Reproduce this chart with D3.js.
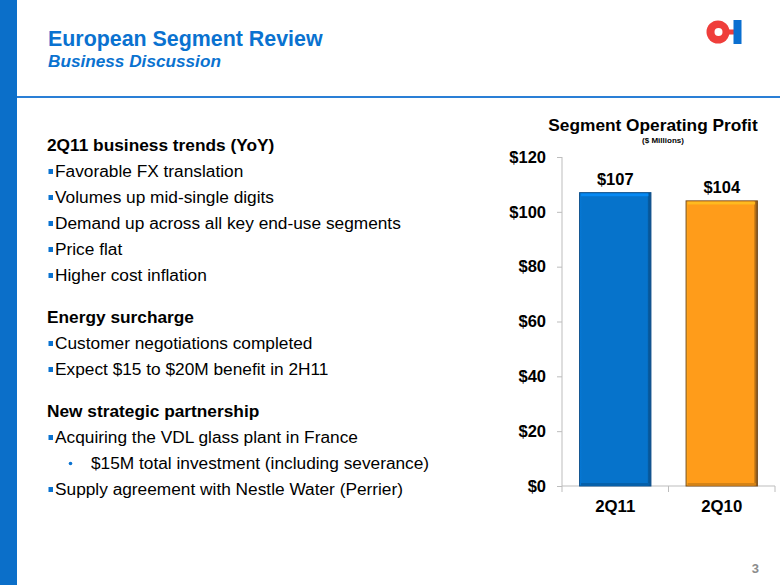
<!DOCTYPE html>
<html>
<head>
<meta charset="utf-8">
<script src="https://cdn.jsdelivr.net/npm/d3@7"></script>
<style>
html,body{margin:0;padding:0;background:#fff;}
svg{display:block;font-family:"Liberation Sans",Arial,sans-serif;}
</style>
</head>
<body>
<svg id="c" width="780" height="585"></svg>
<script>
const categories = ["2Q11", "2Q10"];
const values = [107, 104];
const valueLabels = ["$107", "$104"];
const yTicks = [0, 20, 40, 60, 80, 100, 120];
const yTickLabels = ["$0", "$20", "$40", "$60", "$80", "$100", "$120"];
const barColors = ["#0673CB", "#FF9C1A"];
const barEdges = ["#0D4F8A", "#7A4F1E"];

const title = "European Segment Review";
const subtitle = "Business Discussion";
const chartTitle = "Segment Operating Profit";
const chartSub = "($ Millions)";
const textBlocks = [
  {type:"h", text:"2Q11 business trends (YoY)"},
  {type:"b", text:"Favorable FX translation"},
  {type:"b", text:"Volumes up mid-single digits"},
  {type:"b", text:"Demand up across all key end-use segments"},
  {type:"b", text:"Price flat"},
  {type:"b", text:"Higher cost inflation"},
  {type:"gap"},
  {type:"h", text:"Energy surcharge"},
  {type:"b", text:"Customer negotiations completed"},
  {type:"b", text:"Expect $15 to $20M benefit in 2H11"},
  {type:"gap"},
  {type:"h", text:"New strategic partnership"},
  {type:"b", text:"Acquiring the VDL glass plant in France"},
  {type:"s", text:"$15M total investment (including severance)"},
  {type:"b", text:"Supply agreement with Nestle Water (Perrier)"}
];

const svg = d3.select("#c");
const defs = svg.append("defs");

// left blue band
svg.append("rect").attr("x",0).attr("y",0).attr("width",17).attr("height",585).attr("fill","#0B6FC9");
// header rule
svg.append("rect").attr("x",17).attr("y",96).attr("width",763).attr("height",2).attr("fill","#2A7FD6");

// titles
svg.append("text").attr("x",48).attr("y",46).attr("font-size",21.4).attr("font-weight","bold")
  .attr("fill","#0A72D0").text(title);
svg.append("text").attr("x",48).attr("y",67).attr("font-size",17.2).attr("font-weight","bold")
  .attr("font-style","italic").attr("fill","#0A72D0").text(subtitle);

// logo
const logo = svg.append("g");
logo.append("circle").attr("cx",718).attr("cy",32).attr("r",11.5).attr("fill","#EF3E3B");
logo.append("rect").attr("x",724).attr("y",29.5).attr("width",10).attr("height",5).attr("fill","#EF3E3B");
logo.append("circle").attr("cx",718.5).attr("cy",32).attr("r",4).attr("fill","#fff");
logo.append("rect").attr("x",733.5).attr("y",20).attr("width",8).attr("height",24).attr("fill","#0A6FD0");

// left text
let yy = 151;
const tg = svg.append("g").attr("font-size",17.3).attr("fill","#000");
textBlocks.forEach(d => {
  if (d.type === "gap") { yy += 16; return; }
  if (d.type === "h") {
    tg.append("text").attr("x",47).attr("y",yy).attr("font-weight","bold").text(d.text);
  } else if (d.type === "b") {
    tg.append("rect").attr("x",48.5).attr("y",yy-8).attr("width",4.5).attr("height",5).attr("fill","#0A72D0");
    tg.append("text").attr("x",55).attr("y",yy).text(d.text);
  } else {
    tg.append("circle").attr("cx",70.5).attr("cy",yy-5.5).attr("r",1.8).attr("fill","#0A72D0");
    tg.append("text").attr("x",91).attr("y",yy).text(d.text);
  }
  yy += 26;
});

// chart
const x = d3.scaleBand().domain(categories).range([562, 775]).paddingInner(0.33).paddingOuter(0.165);
const y = d3.scaleLinear().domain([0, 120]).range([486, 157]);

svg.append("text").attr("x",653).attr("y",131).attr("text-anchor","middle").attr("font-size",17.3)
  .attr("font-weight","bold").text(chartTitle);
svg.append("text").attr("x",663).attr("y",143).attr("text-anchor","middle").attr("font-size",8)
  .attr("font-weight","bold").text(chartSub);

const yAxis = svg.append("g").attr("transform","translate(562,0)")
  .call(d3.axisLeft(y).tickValues(yTicks).tickSize(5).tickPadding(11)
    .tickFormat((d,i) => yTickLabels[i]));
yAxis.select(".domain").attr("stroke","#BDBDBD").attr("d","M0,"+y(120)+"V"+y(0));
yAxis.selectAll(".tick line").attr("stroke","#BDBDBD");
yAxis.selectAll(".tick text").attr("font-size",16.5).attr("font-weight","bold").attr("fill","#000")
  .attr("font-family","'Liberation Sans',Arial,sans-serif");

const xg = svg.append("g").attr("transform","translate(0,"+y(0)+")");
xg.append("line").attr("x1",562).attr("x2",775).attr("stroke","#BDBDBD");
const xTickPos = [562, 562 + (775-562)/2, 775];
xg.selectAll("line.t").data(xTickPos).enter().append("line").attr("class","t")
  .attr("x1",d=>d).attr("x2",d=>d).attr("y1",0).attr("y2",6).attr("stroke","#BDBDBD");

// gradients for bevel look
barColors.forEach((c,i) => {
  const g = defs.append("linearGradient").attr("id","g"+i).attr("x1","0").attr("x2","1").attr("y1","0").attr("y2","0");
  g.append("stop").attr("offset","0").attr("stop-color",d3.color(c).brighter(0.3));
  g.append("stop").attr("offset","0.03").attr("stop-color",c);
  g.append("stop").attr("offset","0.95").attr("stop-color",c);
  g.append("stop").attr("offset","0.96").attr("stop-color",d3.color(c).darker(0.6));
  g.append("stop").attr("offset","1").attr("stop-color",barEdges[i]);
});

const bars = svg.append("g");
categories.forEach((cat,i) => {
  const bx = x(cat), bw = x.bandwidth(), by = y(values[i]), bh = y(0) - y(values[i]);
  bars.append("rect").attr("x",bx).attr("y",by).attr("width",bw).attr("height",bh)
    .attr("fill","url(#g"+i+")").attr("stroke",barEdges[i]).attr("stroke-width",1);
  // top highlight
  bars.append("rect").attr("x",bx+1.5).attr("y",by+0.8).attr("width",bw-4).attr("height",2.8)
    .attr("fill",d3.color(barColors[i]).brighter(0.5));
  // bottom shade
  bars.append("rect").attr("x",bx+1.5).attr("y",y(0)-3).attr("width",bw-3).attr("height",2.5)
    .attr("fill",d3.color(barColors[i]).darker(0.5));
  svg.append("text").attr("x",bx+bw/2).attr("y",by-8).attr("text-anchor","middle")
    .attr("font-size",16.5).attr("font-weight","bold").text(valueLabels[i]);
  svg.append("text").attr("x",bx+bw/2).attr("y",y(0)+26).attr("text-anchor","middle")
    .attr("font-size",16.8).attr("font-weight","bold").text(cat);
});

// page number
svg.append("text").attr("x",759).attr("y",573).attr("text-anchor","end").attr("font-size",13)
  .attr("font-weight","bold").attr("fill","#8C8C8C").text("3");
</script>
</body>
</html>
